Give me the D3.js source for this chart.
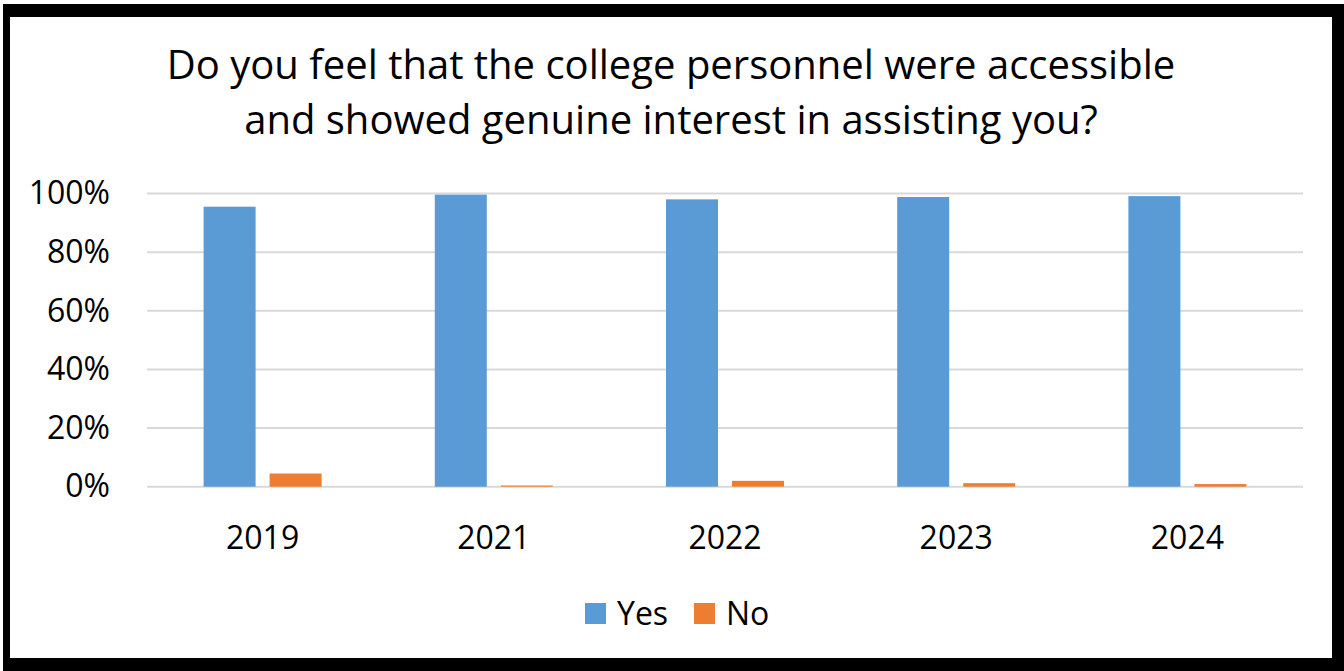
<!DOCTYPE html>
<html>
<head>
<meta charset="utf-8">
<script src="https://cdn.jsdelivr.net/npm/d3@7"></script>
<style>
  html, body { margin: 0; padding: 0; background: #fff; }
  svg { display: block; }
  text { font-family: "Open Sans", "Noto Sans", sans-serif; fill: #000; }
</style>
</head>
<body>
<svg id="chart" width="1344" height="671"></svg>
<script>
const years = ["2019", "2021", "2022", "2023", "2024"];
const yesValues = [95.5, 99.6, 98.0, 98.8, 99.1];
const noValues = [4.5, 0.4, 2.0, 1.2, 0.9];
const seriesNames = ["Yes", "No"];
const seriesColors = ["#5B9BD5", "#ED7D31"];
const yTicks = [0, 20, 40, 60, 80, 100];
const titleLines = [
  "Do you feel that the college personnel were accessible",
  "and showed genuine interest in assisting you?"
];

const W = 1344, H = 671;
const svg = d3.select("#chart");

// frame
svg.append("rect").attr("x", 0).attr("y", 0).attr("width", W).attr("height", H).attr("fill", "#fff");
svg.append("rect").attr("x", 3).attr("y", 4).attr("width", W - 3).attr("height", H - 4).attr("fill", "#000");
svg.append("rect").attr("x", 10).attr("y", 17).attr("width", 1322).attr("height", 641).attr("fill", "#fff");

const plot = { left: 147, right: 1303, top: 193.5, bottom: 486.7 };

const x0 = d3.scaleBand().domain(years).range([plot.left, plot.right]).paddingInner(0).paddingOuter(0);
const y = d3.scaleLinear().domain([0, 100]).range([plot.bottom, plot.top]);

const barW = 52, gap = 14;
const x1 = d3.scaleOrdinal().domain(seriesNames).range([-(barW + gap / 2), gap / 2]);

// title
svg.append("g").selectAll("text").data(titleLines).join("text")
  .attr("x", 671)
  .attr("y", (d, i) => 79 + i * 55)
  .attr("text-anchor", "middle")
  .style("font-size", "40px")
  .text(d => d);

// gridlines
svg.append("g").selectAll("line").data(yTicks).join("line")
  .attr("x1", plot.left).attr("x2", plot.right)
  .attr("y1", d => y(d)).attr("y2", d => y(d))
  .attr("stroke", "#d9d9d9").attr("stroke-width", 2);

// y axis labels
const yAxis = d3.axisLeft(y).tickValues(yTicks).tickFormat(d => d + "%").tickSize(0).tickPadding(0);
const yg = svg.append("g").attr("transform", `translate(110,0)`).call(yAxis);
yg.select(".domain").remove();
yg.selectAll("text").style("font-size", "32px").style("font-family", '"Open Sans", sans-serif').attr("fill", "#000");

// bars
const data = years.map((yr, i) => ({ year: yr, vals: [
  { s: "Yes", v: yesValues[i], c: seriesColors[0] },
  { s: "No", v: noValues[i], c: seriesColors[1] }
]}));

const groups = svg.append("g").selectAll("g").data(data).join("g")
  .attr("transform", d => `translate(${x0(d.year) + x0.bandwidth() / 2},0)`);
groups.selectAll("rect").data(d => d.vals).join("rect")
  .attr("x", d => x1(d.s))
  .attr("width", barW)
  .attr("y", d => y(d.v))
  .attr("height", d => y(0) - y(d.v))
  .attr("fill", d => d.c);

// x axis labels
const xAxis = d3.axisBottom(x0).tickSize(0).tickPadding(0);
const xg = svg.append("g").attr("transform", `translate(0,${plot.bottom})`).call(xAxis);
xg.select(".domain").remove();
xg.selectAll("text").attr("dy", null).attr("y", 62).style("font-size", "32px")
  .style("font-family", '"Open Sans", sans-serif').attr("fill", "#000");

// legend
const legendItems = [
  { name: seriesNames[0], color: seriesColors[0], x: 585 },
  { name: seriesNames[1], color: seriesColors[1], x: 694 }
];
const lg = svg.append("g").selectAll("g").data(legendItems).join("g")
  .attr("transform", d => `translate(${d.x},603)`);
lg.append("rect").attr("width", 21).attr("height", 21).attr("fill", d => d.color);
lg.append("text").attr("x", 32).attr("y", 22).style("font-size", "32px").text(d => d.name);
</script>
</body>
</html>
